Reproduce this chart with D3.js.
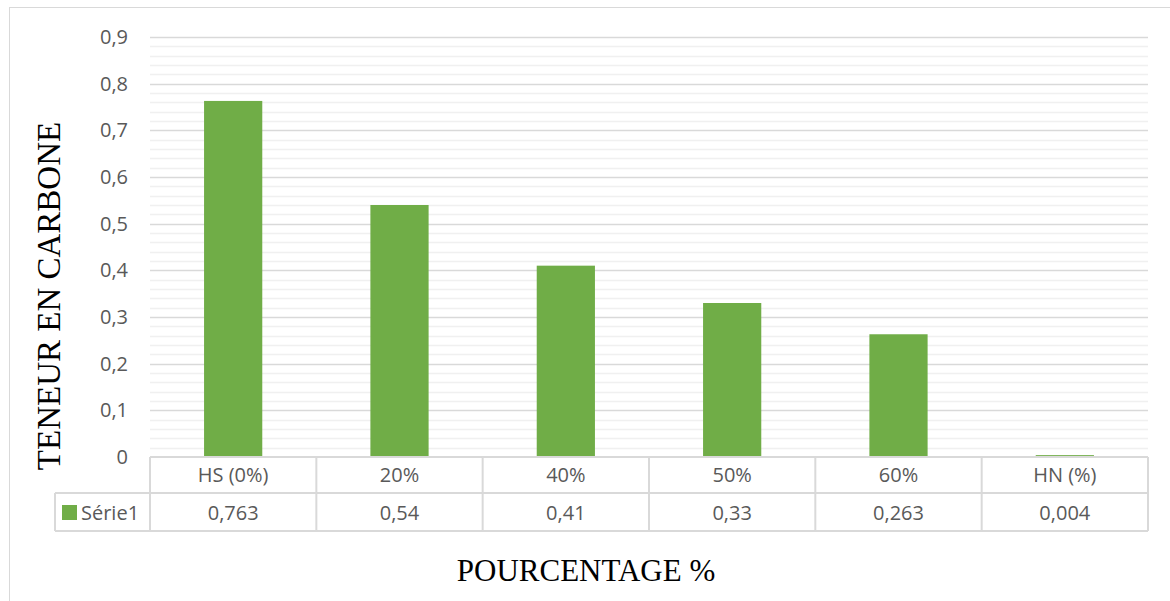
<!DOCTYPE html>
<html>
<head>
<meta charset="utf-8">
<script src="https://cdn.jsdelivr.net/npm/d3@7"></script>
<style>
  body { margin: 0; background: #fff; }
  text { font-family: "Open Sans", "Noto Sans", sans-serif; }
</style>
</head>
<body>
<div class="container"></div>
<script>
let width = 1170
let height = 601

// data
let categories = ["HS (0%)", "20%", "40%", "50%", "60%", "HN (%)"]
let values = [0.763, 0.54, 0.41, 0.33, 0.263, 0.004]
let valueLabels = ["0,763", "0,54", "0,41", "0,33", "0,263", "0,004"]
let seriesName = "Série1"
let yTicks = [0, 0.1, 0.2, 0.3, 0.4, 0.5, 0.6, 0.7, 0.8, 0.9]

let green = "#70ad47"
let plotLeft = 150, plotRight = 1148, plotTop = 37, plotBottom = 457
let rowH1 = 36, rowH2 = 38, legendLeft = 55

let svg = d3.select(".container")
  .append("svg")
  .attr("width", width)
  .attr("height", height)

// chart frame
svg.append("rect")
  .attr("x", 9.5).attr("y", 7.5)
  .attr("width", 1200).attr("height", 700)
  .attr("fill", "none")
  .attr("stroke", "#d9d9d9")

let x = d3.scaleBand()
  .domain(categories)
  .range([plotLeft, plotRight])
  .paddingInner(0.65)
  .paddingOuter(0.325)

let xCell = d3.scaleBand().domain(categories).range([plotLeft, plotRight])

let y = d3.scaleLinear().domain([0, 0.9]).range([plotBottom, plotTop])

// minor gridlines
let minor = d3.range(0, 0.9001, 0.02).filter(function (d) { return Math.abs(d * 10 - Math.round(d * 10)) > 1e-6 })
svg.append("g").selectAll("line")
  .data(minor)
  .enter()
  .append("line")
  .attr("x1", plotLeft).attr("x2", plotRight)
  .attr("y1", function (d) { return Math.round(y(d)) + 0.5 })
  .attr("y2", function (d) { return Math.round(y(d)) + 0.5 })
  .attr("stroke", "#f0f0f0")
  .attr("stroke-width", 1.5)

// major gridlines
svg.append("g").selectAll("line")
  .data(yTicks.slice(1))
  .enter()
  .append("line")
  .attr("x1", plotLeft).attr("x2", plotRight)
  .attr("y1", function (d) { return Math.round(y(d)) + 0.5 })
  .attr("y2", function (d) { return Math.round(y(d)) + 0.5 })
  .attr("stroke", "#d9d9d9")
  .attr("stroke-width", 1.5)

// y axis labels
let yAxis = d3.axisLeft(y).tickValues(yTicks).tickSize(0).tickPadding(22)
  .tickFormat(function (d) { return d3.format(".1f")(d).replace(".", ",").replace(/^0,0$/, "0") })
let yg = svg.append("g").attr("transform", "translate(" + plotLeft + ",0)").call(yAxis)
yg.select(".domain").remove()
yg.selectAll("text")
  .attr("font-family", "'Open Sans', sans-serif")
  .attr("font-size", "20px")
  .attr("fill", "#595959")

// bars
svg.append("g").selectAll("rect")
  .data(values)
  .enter()
  .append("rect")
  .attr("x", function (d, i) { return x(categories[i]) })
  .attr("y", function (d) { return y(d) })
  .attr("width", x.bandwidth())
  .attr("height", function (d) { return plotBottom - y(d) })
  .attr("fill", green)

// data table
let table = svg.append("g").attr("stroke", "#d9d9d9").attr("stroke-width", 2)
table.append("line").attr("x1", plotLeft).attr("x2", plotRight).attr("y1", plotBottom).attr("y2", plotBottom)
table.append("line").attr("x1", legendLeft).attr("x2", plotRight).attr("y1", plotBottom + rowH1).attr("y2", plotBottom + rowH1)
table.append("line").attr("x1", legendLeft).attr("x2", plotRight).attr("y1", plotBottom + rowH1 + rowH2).attr("y2", plotBottom + rowH1 + rowH2)
table.append("line").attr("x1", legendLeft).attr("x2", legendLeft).attr("y1", plotBottom + rowH1).attr("y2", plotBottom + rowH1 + rowH2)
table.selectAll(".vline")
  .data(categories)
  .enter()
  .append("line")
  .attr("class", "vline")
  .attr("x1", function (d) { return xCell(d) })
  .attr("x2", function (d) { return xCell(d) })
  .attr("y1", plotBottom).attr("y2", plotBottom + rowH1 + rowH2)
table.append("line").attr("x1", plotRight).attr("x2", plotRight).attr("y1", plotBottom).attr("y2", plotBottom + rowH1 + rowH2)

svg.append("g").selectAll("text")
  .data(categories)
  .enter()
  .append("text")
  .attr("x", function (d) { return xCell(d) + xCell.bandwidth() / 2 })
  .attr("y", plotBottom + rowH1 / 2 + 7)
  .attr("text-anchor", "middle")
  .attr("font-size", "20px")
  .attr("fill", "#595959")
  .text(function (d) { return d })

svg.append("g").selectAll("text")
  .data(valueLabels)
  .enter()
  .append("text")
  .attr("x", function (d, i) { return xCell(categories[i]) + xCell.bandwidth() / 2 })
  .attr("y", plotBottom + rowH1 + rowH2 / 2 + 8)
  .attr("text-anchor", "middle")
  .attr("font-size", "20px")
  .attr("fill", "#595959")
  .text(function (d) { return d })

// legend key
svg.append("rect")
  .attr("x", 62).attr("y", plotBottom + rowH1 + 12)
  .attr("width", 15).attr("height", 15)
  .attr("fill", green)
svg.append("text")
  .attr("x", 81).attr("y", plotBottom + rowH1 + rowH2 / 2 + 8)
  .attr("font-size", "20px")
  .attr("fill", "#595959")
  .text(seriesName)

// axis titles
svg.append("text")
  .attr("transform", "translate(60,296) rotate(-90)")
  .attr("text-anchor", "middle")
  .style("font-family", "'Liberation Serif', 'Times New Roman', serif")
  .attr("font-size", "33px")
  .attr("fill", "#000")
  .text("TENEUR EN CARBONE")

svg.append("text")
  .attr("x", 586).attr("y", 581)
  .attr("text-anchor", "middle")
  .style("font-family", "'Liberation Serif', 'Times New Roman', serif")
  .attr("font-size", "31px")
  .attr("fill", "#000")
  .text("POURCENTAGE %")
</script>
</body>
</html>
